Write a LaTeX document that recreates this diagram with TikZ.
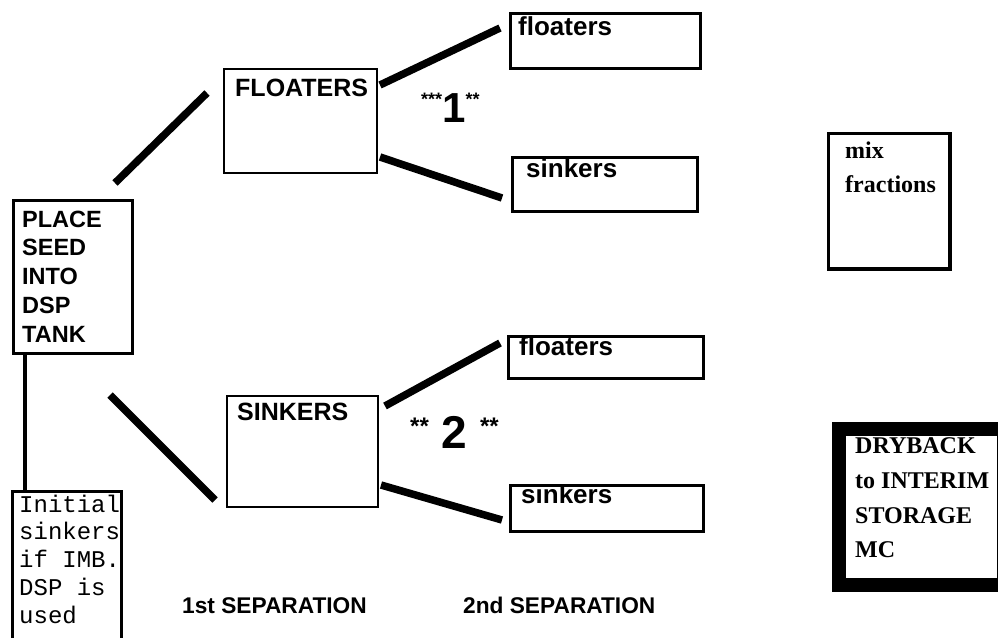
\documentclass[tikz,border=0pt]{standalone}
\usepackage{fontspec}
\setmainfont{Liberation Sans}
\newfontfamily\serifbf{Liberation Serif}
\newfontfamily\monof{Liberation Mono}
\begin{document}
\begin{tikzpicture}[x=1pt,y=-1pt,
  txt/.style={anchor=base west, inner sep=0pt},
  bx/.style={draw, anchor=north west, inner sep=0pt},
  link/.style={line width=7.5pt}]
\useasboundingbox (0,0) rectangle (998,637);
% boxes (centre line of border)
\node[bx, line width=3pt, minimum width=119pt, minimum height=153pt] (place) at (11.5,198.5) {};
\node[bx, line width=2.5pt, minimum width=109pt, minimum height=160pt] (init) at (11.25,490.25) {};
\node[bx, line width=2pt, minimum width=153pt, minimum height=104pt] (F1) at (223,68) {};
\node[bx, line width=2pt, minimum width=151pt, minimum height=111pt] (S1) at (226,395) {};
\node[bx, line width=3pt, minimum width=190pt, minimum height=55pt] (f2a) at (508.5,11.5) {};
\node[bx, line width=3pt, minimum width=185pt, minimum height=54pt] (s2a) at (510.5,155.5) {};
\node[bx, line width=3pt, minimum width=195pt, minimum height=42pt] (f2b) at (506.5,334.5) {};
\node[bx, line width=3pt, minimum width=193pt, minimum height=46pt] (s2b) at (508.5,483.5) {};
\node[bx, line width=3.5pt, minimum width=121.5pt, minimum height=135.5pt] (mix) at (826.75,131.75) {};
\node[bx, line width=14pt, minimum width=165pt, minimum height=156pt] (dry) at (832,422) {};
% texts
\begin{scope}[font=\fontsize{23.5}{28}\selectfont\bfseries]
\node[txt] (p1) at (22,227) {PLACE};
\node[txt] (p2) at (22,255.75) {SEED};
\node[txt] (p3) at (22,284.5) {INTO};
\node[txt] (p4) at (22,313.25) {DSP};
\node[txt] (p5) at (22,342) {TANK};
\end{scope}
\begin{scope}[font=\fontsize{24}{28}\selectfont\monof]
\node[txt] (i1) at (19,512) {Initial};
\node[txt] (i2) at (19,539.75) {sinkers};
\node[txt] (i3) at (19,567.5) {if IMB.};
\node[txt] (i4) at (19,595.25) {DSP is};
\node[txt] (i5) at (19,623) {used};
\end{scope}
\begin{scope}[font=\fontsize{25}{28}\selectfont\bfseries]
\node[txt] (tF1) at (235,96) {FLOATERS};
\node[txt] (tS1) at (237,420) {SINKERS};
\end{scope}
\begin{scope}[font=\fontsize{26}{28}\selectfont\bfseries]
\node[txt] (tf2a) at (518,35) {floaters};
\node[txt] (ts2a) at (526,177) {sinkers};
\node[txt] (tf2b) at (519,355) {floaters};
\node[txt] (ts2b) at (521,503) {sinkers};
\end{scope}
\begin{scope}[font=\fontsize{24}{28}\selectfont\serifbf\bfseries]
\node[txt] (m1) at (845,158) {mix};
\node[txt] (m2) at (845,192) {fractions};
\node[txt] (d1) at (855,453) {DRYBACK};
\node[txt] (d2) at (855,488) {to INTERIM};
\node[txt] (d3) at (855,523) {STORAGE};
\node[txt] (d4) at (855,557) {MC};
\end{scope}
\begin{scope}[font=\fontsize{22.7}{28}\selectfont\bfseries]
\node[txt] (sep1) at (182,613) {1st SEPARATION};
\node[txt] (sep2) at (463,613) {2nd SEPARATION};
\end{scope}
\node[txt, font=\bfseries] (lab1) at (421,122) {{\fontsize{18}{18}\selectfont\raisebox{17pt}{***}}{\fontsize{42}{42}\selectfont 1}{\fontsize{18}{18}\selectfont\raisebox{17pt}{**}}};
\node[txt, font=\bfseries] (lab2) at (410,448) {{\fontsize{24}{24}\selectfont\raisebox{14pt}{**}}{\fontsize{46}{46}\selectfont\ 2\ }{\fontsize{24}{24}\selectfont\raisebox{14pt}{**}}};
% connector end points
\coordinate (a1) at (115,183); \coordinate (a2) at (207,93);
\coordinate (b1) at (110,395); \coordinate (b2) at (215,500);
\coordinate (c1) at (380,85);  \coordinate (c2) at (500,28);
\coordinate (d1p) at (380,157); \coordinate (d2p) at (502,198);
\coordinate (e1) at (385,406); \coordinate (e2) at (500,343);
\coordinate (g1) at (381,485); \coordinate (g2) at (502,520);
\draw[link] (a1) -- (a2);
\draw[link] (b1) -- (b2);
\draw[link] (c1) -- (c2);
\draw[link] (d1p) -- (d2p);
\draw[link] (e1) -- (e2);
\draw[link] (g1) -- (g2);
\draw[line width=4pt] (place.south -| 25,0) -- (init.north -| 25,0);
\end{tikzpicture}
\end{document}
